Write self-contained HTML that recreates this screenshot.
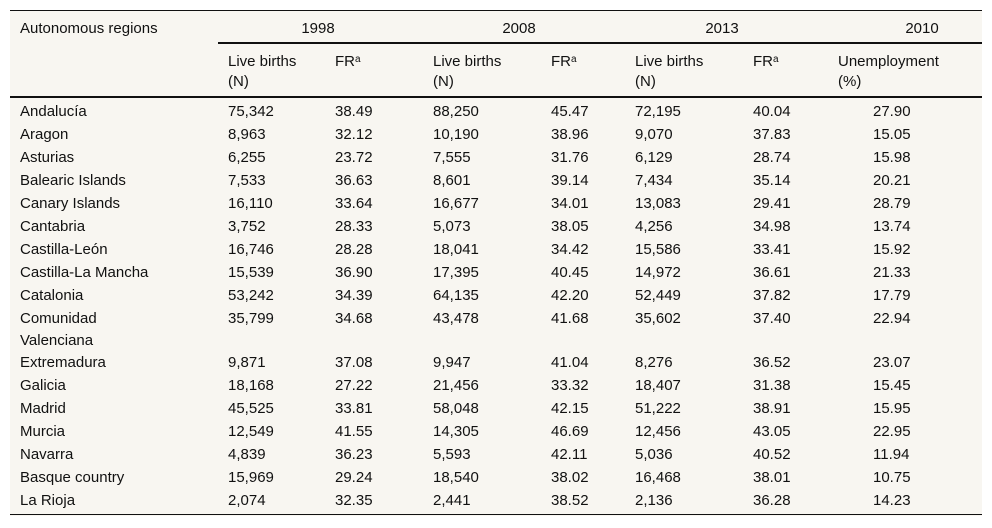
<!DOCTYPE html>
<html><head><meta charset="utf-8"><style>
body{margin:0;width:992px;height:528px;background:#fff;position:relative;font-family:"Liberation Sans",sans-serif;font-size:15px;color:#111;overflow:hidden}
#tbl{position:absolute;left:10px;top:10px;width:972px;height:506px;background:#f8f6f1}
.t{position:absolute;white-space:nowrap;line-height:16px}
.ln{position:absolute;background:#111}
sup{font-size:10px;vertical-align:top;position:relative;top:-2px}
</style></head><body>
<div id="tbl"></div>
<div class="ln" style="left:10px;top:10px;width:972px;height:1px"></div>
<div class="ln" style="left:218px;top:42px;width:764px;height:2px"></div>
<div class="ln" style="left:10px;top:96px;width:972px;height:2px"></div>
<div class="ln" style="left:10px;top:514px;width:972px;height:1px"></div>
<div id="cells"></div>
<script>
const regions=["Andalucía","Aragon","Asturias","Balearic Islands","Canary Islands","Cantabria","Castilla-León","Castilla-La Mancha","Catalonia","Comunidad<br>Valenciana","Extremadura","Galicia","Madrid","Murcia","Navarra","Basque country","La Rioja"];
const births1998=["75,342","8,963","6,255","7,533","16,110","3,752","16,746","15,539","53,242","35,799","9,871","18,168","45,525","12,549","4,839","15,969","2,074"];
const fr1998=["38.49","32.12","23.72","36.63","33.64","28.33","28.28","36.90","34.39","34.68","37.08","27.22","33.81","41.55","36.23","29.24","32.35"];
const births2008=["88,250","10,190","7,555","8,601","16,677","5,073","18,041","17,395","64,135","43,478","9,947","21,456","58,048","14,305","5,593","18,540","2,441"];
const fr2008=["45.47","38.96","31.76","39.14","34.01","38.05","34.42","40.45","42.20","41.68","41.04","33.32","42.15","46.69","42.11","38.02","38.52"];
const births2013=["72,195","9,070","6,129","7,434","13,083","4,256","15,586","14,972","52,449","35,602","8,276","18,407","51,222","12,456","5,036","16,468","2,136"];
const fr2013=["40.04","37.83","28.74","35.14","29.41","34.98","33.41","36.61","37.82","37.40","36.52","31.38","38.91","43.05","40.52","38.01","36.28"];
const unemp2010=["27.90","15.05","15.98","20.21","28.79","13.74","15.92","21.33","17.79","22.94","23.07","15.45","15.95","22.95","11.94","10.75","14.23"];
const c=document.getElementById('cells');
function add(html,x,y,name,center,lh){
  y+=2;
  const d=document.createElement('div');d.className='t';d.innerHTML=html;
  if(lh){d.style.lineHeight=lh+'px';d.style.top=(y-lh/2)+'px';}
  else d.style.top=(y-8)+'px';
  if(center){d.style.left=(x-100)+'px';d.style.width='200px';d.style.textAlign='center';}
  else d.style.left=x+'px';
  
  
  c.appendChild(d);
}
add('Autonomous regions',20,27,'header-regions',false);
add('1998',318,27,'header-1998',true);
add('2008',519,27,'header-2008',true);
add('2013',722,27,'header-2013',true);
add('2010',922,27,'header-2010',true);
const cx=[228,335,433,551,635,753];
const subs=['Live births<br>(N)','FR<sup>a</sup>'];
for(let i=0;i<6;i++){add(subs[i%2],cx[i],60,'subheader',false,20);}
add('Unemployment<br>(%)',838,60,'subheader-unemployment',false,20);
const cols=[births1998,fr1998,births2008,fr2008,births2013,fr2013];
regions.forEach((r,i)=>{
  const y=(i<10?110+i*23:361+(i-10)*23);
  add(r,20,y,'region-label',false,r.indexOf('<br>')>=0?22:0);
  cols.forEach((col,j)=>add(col[i],cx[j],y,'cell-value',false));
  add(unemp2010[i],873,y,'unemployment-value',false);
});
</script>
</body></html>
